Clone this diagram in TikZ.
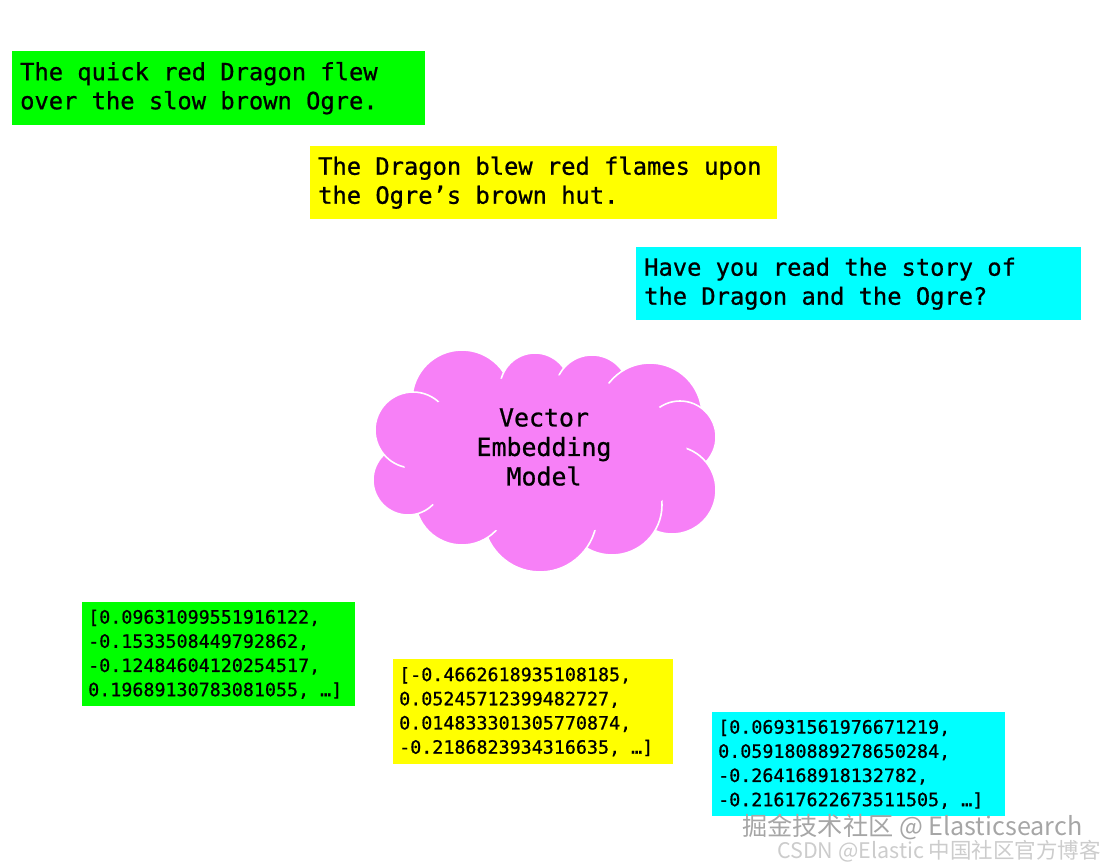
\documentclass[tikz,border=0pt]{standalone}
\usepackage{fontspec}
\setmonofont{DejaVu Sans Mono}[FakeBold=0.8]
\newfontfamily\cjkfont{Noto Sans CJK SC}
\usetikzlibrary{positioning}

\definecolor{boxgreen}{RGB}{0,255,0}
\definecolor{boxyellow}{RGB}{255,255,0}
\definecolor{boxcyan}{RGB}{0,255,255}
\definecolor{cloudpink}{RGB}{247,128,247}

\begin{document}
\begin{tikzpicture}[x=1pt,y=-1pt,
  sentence/.style={anchor=north west, inner xsep=8pt, inner ysep=0pt, align=left,
                   font=\ttfamily\fontsize{23.75}{29}\selectfont,
                   execute at begin node={\spaceskip=0.602em\relax}},
  vector/.style={anchor=north west, inner xsep=6pt, inner ysep=0pt, align=left,
                 font=\ttfamily\fontsize{18.35}{24.2}\selectfont,
                 execute at begin node={\spaceskip=0.602em\relax}},
  puff/.style={fill=cloudpink, draw=white, line width=1.6pt}]
 \useasboundingbox (0,0) rectangle (1108,867);

 % input sentences
 \node[sentence, fill=boxgreen, text width=397pt, minimum height=74pt] (s_quick) at (12,51)
   {The quick red Dragon flew\\over the slow brown Ogre.};
 \node[sentence, fill=boxyellow, text width=451pt, minimum height=73pt] (s_blew) at (310,146)
   {The Dragon blew red flames upon\\the Ogre’s brown hut.};
 \node[sentence, fill=boxcyan, text width=429pt, minimum height=73pt] (s_story) at (636,247)
   {Have you read the story of\\the Dragon and the Ogre?};

 % the model cloud
 \foreach \cx/\cy/\r in {462/400/50, 535/388/35, 592/392/37, 650/415/52, 680/437/36,
                         672/490/44, 612/505/50, 540/515/57, 462/498/47, 408/480/35,
                         413/430/38}
   \draw[puff] (\cx,\cy) circle [radius=\r];
 \fill[cloudpink] (545,455) ellipse [x radius=142, y radius=80];
 \node[font=\ttfamily\fontsize{24.9}{29.5}\selectfont, align=center] (model) at (544,447)
   {Vector\\Embedding\\Model};

 % output vectors
 \node[vector, fill=boxgreen, text width=261pt, minimum height=104pt] (v_quick) at (82,602)
   {[0.09631099551916122,\\-0.1533508449792862,\\-0.12484604120254517,\\0.19689130783081055, …]};
 \node[vector, fill=boxyellow, text width=268pt, minimum height=105pt] (v_blew) at (393,659)
   {[-0.4662618935108185,\\0.05245712399482727,\\0.014833301305770874,\\-0.2186823934316635, …]};
 \node[vector, fill=boxcyan, text width=281pt, minimum height=104pt] (v_story) at (712,712)
   {[0.06931561976671219,\\0.059180889278650284,\\-0.264168918132782,\\-0.21617622673511505, …]};

 % watermark
 \node[anchor=west, inner sep=0pt, font=\cjkfont\fontsize{25.2}{25.2}\selectfont, text=gray!70] (mark_top) at (742,827)
   {掘金技术社区 @ Elasticsearch};
 \node[anchor=west, inner sep=0pt, font=\cjkfont\fontsize{21.5}{21.5}\selectfont, text=gray!40] (mark_bot) at (777,851)
   {CSDN @Elastic 中国社区官方博客};
\end{tikzpicture}
\end{document}
